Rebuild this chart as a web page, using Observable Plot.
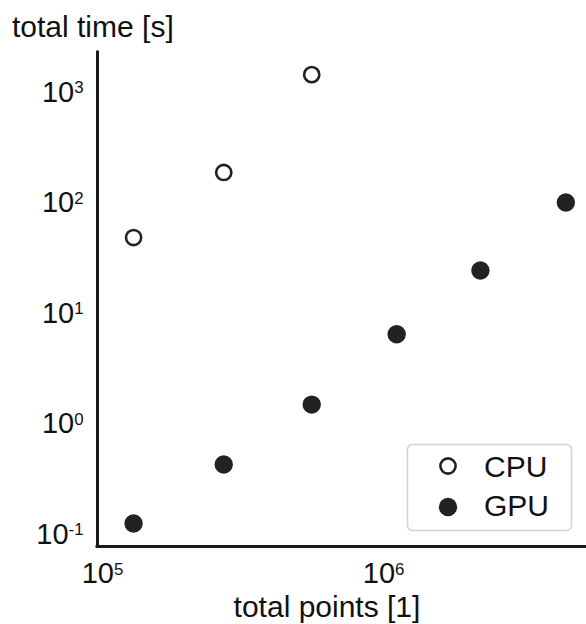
<!DOCTYPE html>
<html>
<head>
<meta charset="utf-8">
<script src="https://cdn.jsdelivr.net/npm/d3@7"></script>
<script src="https://cdn.jsdelivr.net/npm/@observablehq/plot@0.6"></script>
<style>
  html, body { margin: 0; padding: 0; background: #fff; }
  #chart { width: 586px; height: 624px; }
</style>
</head>
<body>
<div id="chart"></div>
<script>
// ---- data ----
const seriesNames = ["CPU", "GPU"];
const cpuPoints = [129000, 270000, 555000];
const cpuTime = [48.7, 189, 1450];
const gpuPoints = [129000, 270000, 555000, 1113000, 2210000, 4450000];
const gpuTime = [0.126, 0.43, 1.5, 6.5, 24.5, 101];
const xTickValues = [1e5, 1e6];
const yTickValues = [0.1, 1, 10, 100, 1000];
const xLabel = "total points [1]";
const yLabel = "total time [s]";

const cpu = cpuPoints.map((p, i) => ({points: p, time: cpuTime[i], series: seriesNames[0]}));
const gpu = gpuPoints.map((p, i) => ({points: p, time: gpuTime[i], series: seriesNames[1]}));

const xDomain = [96000, 5.27e6];
const yDomain = [0.078, 2300];
const ink = "#1a1a1a";
const font = "'Liberation Sans', Arial, sans-serif";
const fs = 30;
const expFormat = d => "10^" + Math.round(Math.log10(d));

const chart = Plot.plot({
  width: 586,
  height: 624,
  marginLeft: 97,
  marginRight: 0,
  marginTop: 52,
  marginBottom: 78,
  style: {fontFamily: font, fontSize: "29px", color: "#111", background: "#fff", overflow: "visible"},
  x: {type: "log", domain: xDomain, ticks: xTickValues, tickFormat: expFormat, tickSize: 0, tickPadding: 16, label: null},
  y: {type: "log", domain: yDomain, ticks: yTickValues, tickFormat: expFormat, tickSize: 0, tickPadding: 14, label: null},
  marks: [
    Plot.ruleX([xDomain[0]], {stroke: ink, strokeWidth: 3, strokeLinecap: "square"}),
    Plot.ruleY([yDomain[0]], {stroke: ink, strokeWidth: 3, strokeLinecap: "square"}),
    Plot.dot(cpu, {x: "points", y: "time", r: 7.6, fill: "#fff", stroke: "#222", strokeWidth: 2.6}),
    Plot.dot(gpu, {x: "points", y: "time", r: 9.2, fill: "#222", stroke: "none"})
  ]
});

const ns = "http://www.w3.org/2000/svg";
// superscript exponents on tick labels
chart.querySelectorAll("text").forEach(t => {
  const m = /^10\^(-?\d+)$/.exec(t.textContent);
  if (!m) return;
  t.textContent = "";
  const base = document.createElementNS(ns, "tspan");
  base.textContent = "10";
  const sup = document.createElementNS(ns, "tspan");
  sup.setAttribute("font-size", "0.58em");
  sup.setAttribute("dy", "-0.5em");
  sup.textContent = m[1];
  t.appendChild(base);
  t.appendChild(sup);
});

const svg = d3.select(chart);
const addText = (x, y, s, anchor) => svg.append("text")
  .attr("x", x).attr("y", y).attr("text-anchor", anchor)
  .attr("font-family", font).attr("font-size", fs).attr("fill", "#111")
  .text(s);
// y title (top-left)
addText(12, 37, yLabel, "start");
// x title
addText(327, 617, xLabel, "middle");

// legend (inside plot, lower right)
const lg = svg.append("g").attr("class", "legend");
lg.append("rect").attr("x", 407.5).attr("y", 444.5).attr("width", 164).attr("height", 86)
  .attr("rx", 5).attr("fill", "#fff").attr("stroke", "#d2d2d2").attr("stroke-width", 1.5);
lg.append("circle").attr("cx", 448).attr("cy", 466).attr("r", 7.6)
  .attr("fill", "#fff").attr("stroke", "#222").attr("stroke-width", 2.6);
lg.append("circle").attr("cx", 448).attr("cy", 507).attr("r", 9.2).attr("fill", "#222");
addText(484, 477, seriesNames[0], "start");
addText(484, 516, seriesNames[1], "start");

document.getElementById("chart").appendChild(chart);
</script>
</body>
</html>
